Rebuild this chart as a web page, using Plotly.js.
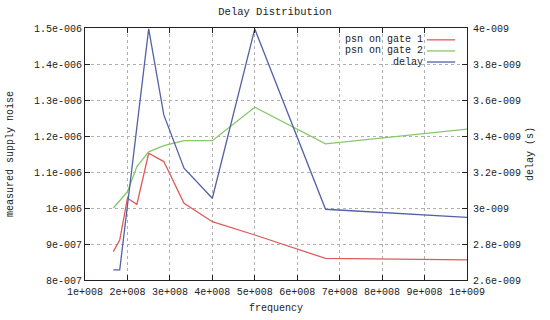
<!DOCTYPE html>
<html><head><meta charset="utf-8">
<script src="https://cdn.plot.ly/plotly-3.0.1.min.js"></script>
<style>html,body{margin:0;padding:0;background:#fff}#c{width:550px;height:320px}</style>
</head><body><div id="c"></div>
<script>
// data
const freqGate1 = [1.667e8, 1.818e8, 2.0e8, 2.222e8, 2.5e8, 2.857e8, 3.333e8, 4.0e8, 5.0e8, 6.667e8, 1.0e9];
const psnGate1  = [8.79e-7, 9.11e-7, 1.027e-6, 1.01e-6, 1.152e-6, 1.129e-6, 1.013e-6, 9.62e-7, 9.25e-7, 8.6e-7, 8.56e-7];
const freqGate2 = [1.667e8, 2.0e8, 2.222e8, 2.5e8, 2.857e8, 3.333e8, 4.0e8, 5.0e8, 6.667e8, 1.0e9];
const psnGate2  = [1.0e-6, 1.045e-6, 1.115e-6, 1.156e-6, 1.173e-6, 1.187e-6, 1.187e-6, 1.28e-6, 1.178e-6, 1.219e-6];
const freqDelay = [1.667e8, 1.818e8, 2.5e8, 2.857e8, 3.333e8, 4.0e8, 5.0e8, 6.667e8, 1.0e9];
const delay     = [2.656e-9, 2.656e-9, 3.995e-9, 3.517e-9, 3.221e-9, 3.054e-9, 3.995e-9, 2.993e-9, 2.948e-9];

const xTickVals = [1e8,2e8,3e8,4e8,5e8,6e8,7e8,8e8,9e8,1e9];
const xTickText = ["1e+008","2e+008","3e+008","4e+008","5e+008","6e+008","7e+008","8e+008","9e+008","1e+009"];
const yTickVals = [8e-7,9e-7,1.0e-6,1.1e-6,1.2e-6,1.3e-6,1.4e-6,1.5e-6];
const yTickText = ["8e-007","9e-007","1e-006","1.1e-006","1.2e-006","1.3e-006","1.4e-006","1.5e-006"];
const y2TickVals = [2.6e-9,2.8e-9,3.0e-9,3.2e-9,3.4e-9,3.6e-9,3.8e-9,4.0e-9];
const y2TickText = ["2.6e-009","2.8e-009","3e-009","3.2e-009","3.4e-009","3.6e-009","3.8e-009","4e-009"];
const seriesNames = ["psn on gate 1","psn on gate 2","delay"];
const seriesColors = ["#e05a5a","#86c86a","#5361a6"];

const font = {family:"Liberation Mono, DejaVu Sans Mono, monospace", size:10, color:"#222"};
const titleFont = {family:"Liberation Mono, DejaVu Sans Mono, monospace", size:10.5, color:"#222"};

const traces = [
  {x:freqGate1, y:psnGate1, name:seriesNames[0], mode:"lines", line:{color:seriesColors[0], width:1.3}},
  {x:freqGate2, y:psnGate2, name:seriesNames[1], mode:"lines", line:{color:seriesColors[1], width:1.3}},
  {x:freqDelay, y:delay, name:seriesNames[2], mode:"lines", yaxis:"y2", line:{color:seriesColors[2], width:1.3}}
];

const ann = [];
const shapes = [
  {type:"rect", xref:"paper", yref:"paper", x0:0.68, x1:1, y0:0.845, y1:1, fillcolor:"#fff", line:{width:0}, layer:"between"}
];
seriesNames.forEach((n,i)=>{
  const yy = 0.953 - i*0.044;
  ann.push({xref:"paper", yref:"paper", x:0.889, y:yy, xanchor:"right", yanchor:"middle", text:n, showarrow:false, font:font});
  shapes.push({type:"line", xref:"paper", yref:"paper", x0:0.895, x1:0.969, y0:yy, y1:yy, line:{color:seriesColors[i], width:1.3}});
});

const layout = {
  width:550, height:320,
  margin:{l:85, r:83, t:28, b:40},
  paper_bgcolor:"#fff", plot_bgcolor:"#fff",
  font:font,
  showlegend:false,
  title:{text:"Delay Distribution", font:titleFont, x:0.5, xanchor:"center", y:0.975, yanchor:"top"},
  xaxis:{range:[1e8,1e9], tickvals:xTickVals, ticktext:xTickText, ticks:"inside", ticklen:5, tickcolor:"#222",
    showline:true, linecolor:"#222", linewidth:1, mirror:"ticks", showgrid:true, gridcolor:"#b0b0b0", griddash:"dot", gridwidth:1,
    zeroline:false, title:{text:"frequency", font:font, standoff:6}, tickfont:font, ticklabelstandoff:2},
  yaxis:{range:[8e-7,1.5e-6], tickvals:yTickVals, ticktext:yTickText, ticks:"inside", ticklen:5, tickcolor:"#222",
    showline:true, linecolor:"#222", linewidth:1, mirror:true, showgrid:true, gridcolor:"#b0b0b0", griddash:"dot", gridwidth:1,
    zeroline:false, title:{text:"measured supply noise", font:font, standoff:18}, tickfont:font},
  yaxis2:{range:[2.6e-9,4e-9], overlaying:"y", side:"right", tickvals:y2TickVals, ticktext:y2TickText, ticks:"inside", ticklen:5, tickcolor:"#222",
    showline:false, showgrid:false, zeroline:false, title:{text:"delay (s)", font:font, standoff:5}, tickfont:font, ticklabelstandoff:5},
  annotations:ann,
  shapes:shapes
};
Plotly.newPlot("c", traces, layout, {displayModeBar:false, staticPlot:true});
</script></body></html>
